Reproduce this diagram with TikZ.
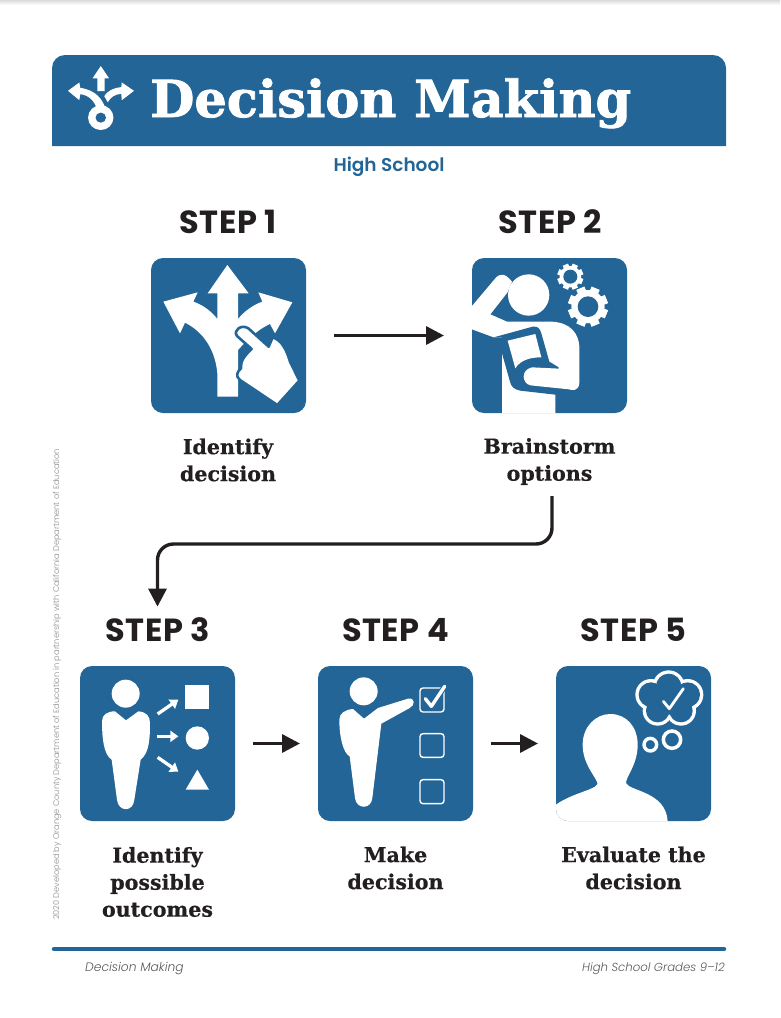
\documentclass[tikz,border=0pt]{standalone}
\usepackage{fontspec}
\usepackage{tikz}
\usetikzlibrary{arrows.meta}
\setmainfont{DejaVu Serif}
\newfontfamily\titlefont[FakeBold=1.6]{DejaVu Serif Bold}
\newfontfamily\labelfont[FakeBold=0.5]{DejaVu Serif Bold}
\newfontfamily\stepfont[LetterSpace=2]{Poppins Bold}
\newfontfamily\gradefont{Poppins SemiBold}
\newfontfamily\footfont[ItalicFont={Poppins Light Italic}]{Poppins Light}
\definecolor{iconblue}{HTML}{226596}
\definecolor{darktext}{HTML}{231F20}
\definecolor{footgray}{HTML}{58595B}
\tikzset{
    stepbox/.style={fill=iconblue,rounded corners=12,minimum size=155,inner sep=0,outer sep=0},
    steptitle/.style={font=\stepfont\fontsize{32}{32}\selectfont,text=darktext,anchor=base},
    steplabel/.style={font=\labelfont\fontsize{20.6}{27}\selectfont,text=darktext,align=center,inner sep=0},
    stepflow/.style={draw=darktext,line width=3.4,-{Triangle[length=18,width=18]}},
    icon/.style={fill=white,draw=none},
    cutout/.style={fill=iconblue,draw=none},
    smallarrow/.style={draw=white,line width=3.3,-{Triangle[length=8,width=11]}},
    tickbox/.style={draw=white,line width=1.4,rounded corners=3},
}
\newcommand{\drawgear}[3]{
    \foreach \a in {0,45,...,315}
        \fill[icon,shift={(#1)},rotate=\a+22.5] (-#3*0.22,0) rectangle (#3*0.22,#3);
    \fill[icon] (#1) circle (#3*0.83);
    \fill[cutout] (#1) circle (#2);
}
\begin{document}
\begin{tikzpicture}[x=1pt,y=-1pt]
    \useasboundingbox (0,0) rectangle (780,1018);
    \shade[top color=black!14,bottom color=white] (0,0) rectangle (780,5);

    \fill[iconblue] (52,146) [rounded corners=13] -- (52,55) -- (726,55) [sharp corners] -- (726,146) -- cycle;
    \node (title) at (150,117) [anchor=base west,inner sep=0,text=white,font=\titlefont\fontsize{51}{51}\selectfont] {Decision Making};
    \node (grade) at (389,171) [anchor=base,text=iconblue,font=\gradefont\fontsize{18.5}{18.5}\selectfont] {High School};

    \begin{scope}[shift={(40.9,39.9)},xscale=0.437,yscale=0.335]
        \fill[icon] (137,78) -- (156,115) -- (146,115) -- (146,153) -- (129,153) -- (129,115) -- (118,115) -- cycle;
        \fill[icon] (62,152) -- (88,127) -- (90,143) .. controls (125,150) and (140,175) .. (148,205) -- (128,205) .. controls (122,182) and (110,165) .. (90,162) -- (88,180) -- cycle;
        \fill[icon] (213,152) -- (185,127) -- (184,141) .. controls (165,143) and (150,155) .. (145,168) -- (153,186) .. controls (160,170) and (170,162) .. (184,161) -- (185,180) -- cycle;
        \fill[icon] (137,232) ellipse [x radius=29,y radius=37];
        \fill[cutout] (137,232) ellipse [x radius=12,y radius=15];
    \end{scope}

    \node (step1) at (228,233) [steptitle] {STEP 1};
    \node (step2) at (550,233) [steptitle] {STEP 2};
    \node (step3) at (157.5,641) [steptitle] {STEP 3};
    \node (step4) at (395.5,641) [steptitle] {STEP 4};
    \node (step5) at (633.5,641) [steptitle] {STEP 5};

    \node (box1) at (228.5,335.5) [stepbox] {};
    \node (box2) at (549.5,335.5) [stepbox] {};
    \node (box3) at (157.5,743.5) [stepbox] {};
    \node (box4) at (395.5,743.5) [stepbox] {};
    \node (box5) at (633.5,743.5) [stepbox] {};

    \node (label1) at (228,460) [steplabel] {Identify\\decision};
    \node (label2) at (549.5,461.5) [steplabel] {Brainstorm\\options};
    \node (label3) at (157.5,882) [steplabel] {Identify\\possible\\outcomes};
    \node (label4) at (395.5,868) [steplabel] {Make\\decision};
    \node (label5) at (633.5,868) [steplabel] {Evaluate the\\decision};

    \coordinate (bend) at (350,544);
    \draw[stepflow,shorten <=28,shorten >=28] (box1) -- (box2);
    \draw[stepflow,rounded corners=16] ([xshift=2.5,yshift=-11]label2.south) |- (bend) -| ([yshift=7]step3.north);
    \draw[stepflow,shorten <=18,shorten >=18] (box3) -- (box4);
    \draw[stepflow,shorten <=18,shorten >=18] (box4) -- (box5);

    \begin{scope}[shift={(140,250)},scale=1/3]
        \fill[icon] (262,45) -- (326,130) -- (294,130) -- (294,440) -- (232,440) -- (232,370) .. controls (226,300) and (190,245) .. (135,218) -- (120,250) -- (70,155) -- (173,127) -- (160,155) .. controls (190,165) and (215,185) .. (232,207) -- (232,130) -- (203,130) -- cycle;
        \fill[icon] (294,207) .. controls (312,185) and (338,165) .. (367,155) -- (355,127) -- (457,157) -- (405,250) -- (390,222) .. controls (360,235) and (330,260) .. (294,300) -- cycle;
        \draw[iconblue,line width=2.6,fill=white,line join=round] (291,258) .. controls (278,240) and (305,222) .. (325,235) -- (386,290) -- (398,262) .. controls (425,270) and (440,300) .. (450,335) -- (478,392) -- (412,465) -- (300,390) .. controls (285,378) and (292,365) .. (303,355) .. controls (300,335) and (315,315) .. (335,297) -- cycle;
    \end{scope}

    \begin{scope}[shift={(462,250)},scale=1/3]
        \fill[icon] (30,168) -- (100,85) .. controls (115,68) and (130,70) .. (150,95) -- (136,128) -- (85,193) -- (135,215) -- (270,215) .. controls (325,218) and (350,250) .. (352,290) -- (352,398) .. controls (352,412) and (345,420) .. (330,420) -- (280,420) -- (280,490) -- (120,490) -- (120,262) -- (95,262) -- (30,238) -- cycle;
        \fill[icon] (200,135) circle (62);
        \fill[cutout] (95,262) -- (212,230) .. controls (228,228) and (234,236) .. (238,250) -- (262,335) -- (290,352) -- (288,400) -- (335,424) -- (280,434) -- (175,422) .. controls (155,418) and (148,410) .. (144,395) -- (120,310) -- (120,262) -- cycle;
        \fill[icon] (137,272) -- (220,252) -- (238,322) .. controls (205,322) and (175,330) .. (160,355) -- cycle;
        \fill[icon] (210,352) -- (292,356) -- (282,290) -- (290,284) -- (300,360) -- (340,420) -- (205,406) .. controls (180,400) and (175,360) .. (210,352) -- cycle;
        \drawgear{325,80}{21}{39}
        \drawgear{378,170}{31}{60}
    \end{scope}

    \begin{scope}[shift={(70,658)},scale=1/3]
        \fill[icon] (167,107) circle (42);
        \fill[icon] (135,160) -- (168,187) -- (205,160) .. controls (230,162) and (240,175) .. (240,195) .. controls (240,240) and (238,285) .. (212,305) -- (193,425) .. controls (190,463) and (145,463) .. (141,425) -- (125,305) .. controls (100,290) and (96,235) .. (96,190) .. controls (96,170) and (112,160) .. (135,160) -- cycle;
        \draw[smallarrow] (263,168) -- (325,125);
        \draw[smallarrow] (260,235) -- (325,235);
        \draw[smallarrow] (263,298) -- (325,341);
        \fill[icon] (345,80) rectangle (417,152);
        \fill[icon] (382,240) circle (35);
        \fill[icon] (382,335) -- (417,395) -- (347,395) -- cycle;
    \end{scope}

    \begin{scope}[shift={(308,658)},scale=1/3]
        \fill[icon] (167,100) circle (42);
        \fill[icon] (135,153) -- (168,182) -- (210,150) -- (300,122) .. controls (322,118) and (322,142) .. (305,150) -- (220,197) -- (193,420) .. controls (190,455) and (145,455) .. (141,420) -- (125,295) .. controls (105,285) and (94,235) .. (94,185) .. controls (94,165) and (112,155) .. (135,153) -- cycle;
        \draw[tickbox] (336,90) rectangle (408,162);
        \draw[tickbox] (336,227) rectangle (408,298);
        \draw[tickbox] (336,365) rectangle (408,437);
        \draw[draw=iconblue,line width=5.5] (352,122) -- (370,145) -- (410,85);
        \draw[white,line width=3.4,line cap=round,line join=round] (352,122) -- (370,145) -- (410,85);
    \end{scope}

    \begin{scope}
        \clip (556,666) [rounded corners=12] rectangle (711,821);
        \begin{scope}[shift={(546,658)},scale=1/3]
            \fill[icon] (0,470) .. controls (40,410) and (145,400) .. (155,378) .. controls (150,355) and (110,320) .. (110,260) .. controls (110,205) and (150,168) .. (193,168) .. controls (240,168) and (275,205) .. (275,260) .. controls (275,320) and (240,355) .. (240,375) .. controls (250,400) and (360,400) .. (365,490) -- (0,490) -- cycle;
        \end{scope}
    \end{scope}

    \begin{scope}[shift={(546,658)},scale=1/3]
        \foreach \p/\r in {{368,85}/48,{315,110}/47,{425,110}/47,{335,158}/45,{405,158}/45}
            \fill[icon] (\p) circle (\r);
        \foreach \p/\r in {{368,85}/38,{315,110}/37,{425,110}/37,{335,158}/35,{405,158}/35,{370,125}/45}
            \fill[cutout] (\p) circle (\r);
        \draw[white,line width=2.8,line cap=round,line join=round] (352,130) -- (370,152) -- (412,92);
        \draw[white,line width=3.5] (378,245) circle (26);
        \draw[white,line width=3.4] (313,260) circle (19);
    \end{scope}

    \draw[iconblue,line width=4.5,line cap=round] (54,949) -- (724,949);
    \node (footleft) at (85,971) [anchor=base west,inner sep=0,text=footgray,font=\footfont\fontsize{12.3}{12.3}\selectfont\itshape] {Decision Making};
    \node (footright) at (725,971) [anchor=base east,inner sep=0,text=footgray,font=\footfont\fontsize{11.7}{11.7}\selectfont\itshape] {High School Grades 9–12};
    \node (credit) at (59,920) [anchor=base west,rotate=90,inner sep=0,text=black!45,font=\footfont\fontsize{8.2}{8.2}\selectfont] {2020 Developed by Orange County Department of Education in partnership with California Department of Education};
\end{tikzpicture}
\end{document}
